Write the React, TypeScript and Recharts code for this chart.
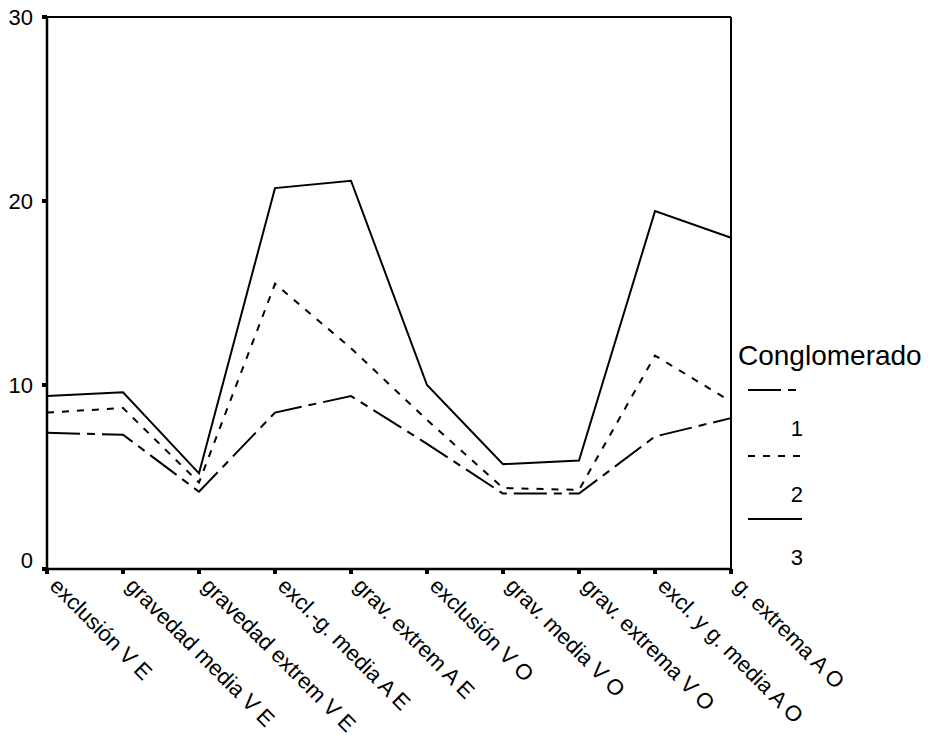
import { LineChart, Line, XAxis, YAxis, Legend, ReferenceLine } from "recharts";

const categories = [
  "exclusión V E",
  "gravedad media V E",
  "gravedad extrem V E",
  "excl.-g. media A E",
  "grav. extrem A E",
  "exclusión V O",
  "grav. media V O",
  "grav. extrema V O",
  "excl. y g. media A O",
  "g. extrema A O",
];

const cluster1 = [7.4, 7.3, 4.2, 8.5, 9.4, 6.8, 4.1, 4.1, 7.2, 8.2];
const cluster2 = [8.5, 8.75, 4.7, 15.5, 12.0, 8.1, 4.4, 4.3, 11.6, 9.1];
const cluster3 = [9.4, 9.6, 5.2, 20.7, 21.1, 10.0, 5.7, 5.9, 19.45, 18.0];

const yTicks = [0, 10, 20, 30];

const seriesNames = ["1", "2", "3"];
const dashes = ["33 7 8 7", "7 8", undefined];

const data = categories.map((name, i) => ({
  name,
  c1: cluster1[i],
  c2: cluster2[i],
  c3: cluster3[i],
}));

const font = "'Liberation Sans', Arial, sans-serif";

function XTick({ x, y, payload }: any) {
  return (
    <g transform={`translate(${x + 10},${y - 3})`}>
      <text
        transform="rotate(45)"
        x={4}
        y={0}
        dominantBaseline="hanging"
        textAnchor="start"
        fontSize={22}
        fontFamily={font}
        fill="#000"
      >
        {payload.value}
      </text>
    </g>
  );
}

function YTick({ x, y, payload }: any) {
  const shift = payload.value === 0 ? -9 : 0;
  return (
    <text
      x={x}
      y={y + shift}
      textAnchor="end"
      dominantBaseline="central"
      fontSize={22}
      fontFamily={font}
      fill="#000"
    >
      {payload.value}
    </text>
  );
}

function LegendBox() {
  const rows = [55, 121, 184];
  return (
    <svg width={203} height={240} style={{ display: "block" }}>
      <text x={8} y={20} dominantBaseline="central" fontSize={28} fontFamily={font} fill="#000">
        Conglomerado
      </text>
      {seriesNames.map((n, i) => (
        <g key={n}>
          <line
            x1={18}
            x2={72}
            y1={rows[i]}
            y2={rows[i]}
            stroke="#000"
            strokeWidth={2}
            strokeDasharray={dashes[i]}
          />
          <text
            x={73}
            y={rows[i] + 38}
            textAnchor="end"
            dominantBaseline="central"
            fontSize={22}
            fontFamily={font}
            fill="#000"
          >
            {n}
          </text>
        </g>
      ))}
    </svg>
  );
}

export default function App() {
  return (
    <div style={{ position: "absolute", left: 0, top: 0, background: "#fff" }}>
      <LineChart
        width={933}
        height={740}
        data={data}
        margin={{ top: 17, right: 202, bottom: 0, left: 0 }}
      >
        <XAxis
          dataKey="name"
          height={171}
          interval={0}
          padding={{ left: 0, right: 0 }}
          axisLine={{ stroke: "#000", strokeWidth: 2.5 }}
          tickLine={{ stroke: "#000", strokeWidth: 4 }}
          tickSize={5}
          tickMargin={2}
          tick={<XTick />}
        />
        <YAxis
          width={47}
          domain={[0, 30]}
          ticks={yTicks}
          axisLine={{ stroke: "#000", strokeWidth: 2.5 }}
          tickLine={{ stroke: "#000", strokeWidth: 4 }}
          tickSize={5}
          tickMargin={9}
          tick={<YTick />}
        />
        <ReferenceLine y={30} stroke="#000" strokeWidth={2} />
        <ReferenceLine x={categories[categories.length - 1]} stroke="#000" strokeWidth={2} />
        <Legend
          layout="vertical"
          align="center"
          verticalAlign="middle"
          content={() => <LegendBox />}
          wrapperStyle={{ position: "absolute", left: 730, top: 335, width: 203, height: 240 }}
        />
        <Line
          dataKey="c1"
          name="1"
          type="linear"
          stroke="#000"
          strokeWidth={2}
          strokeDasharray={dashes[0]}
          dot={false}
          isAnimationActive={false}
        />
        <Line
          dataKey="c2"
          name="2"
          type="linear"
          stroke="#000"
          strokeWidth={2}
          strokeDasharray={dashes[1]}
          dot={false}
          isAnimationActive={false}
        />
        <Line
          dataKey="c3"
          name="3"
          type="linear"
          stroke="#000"
          strokeWidth={2}
          dot={false}
          isAnimationActive={false}
        />
      </LineChart>
    </div>
  );
}
